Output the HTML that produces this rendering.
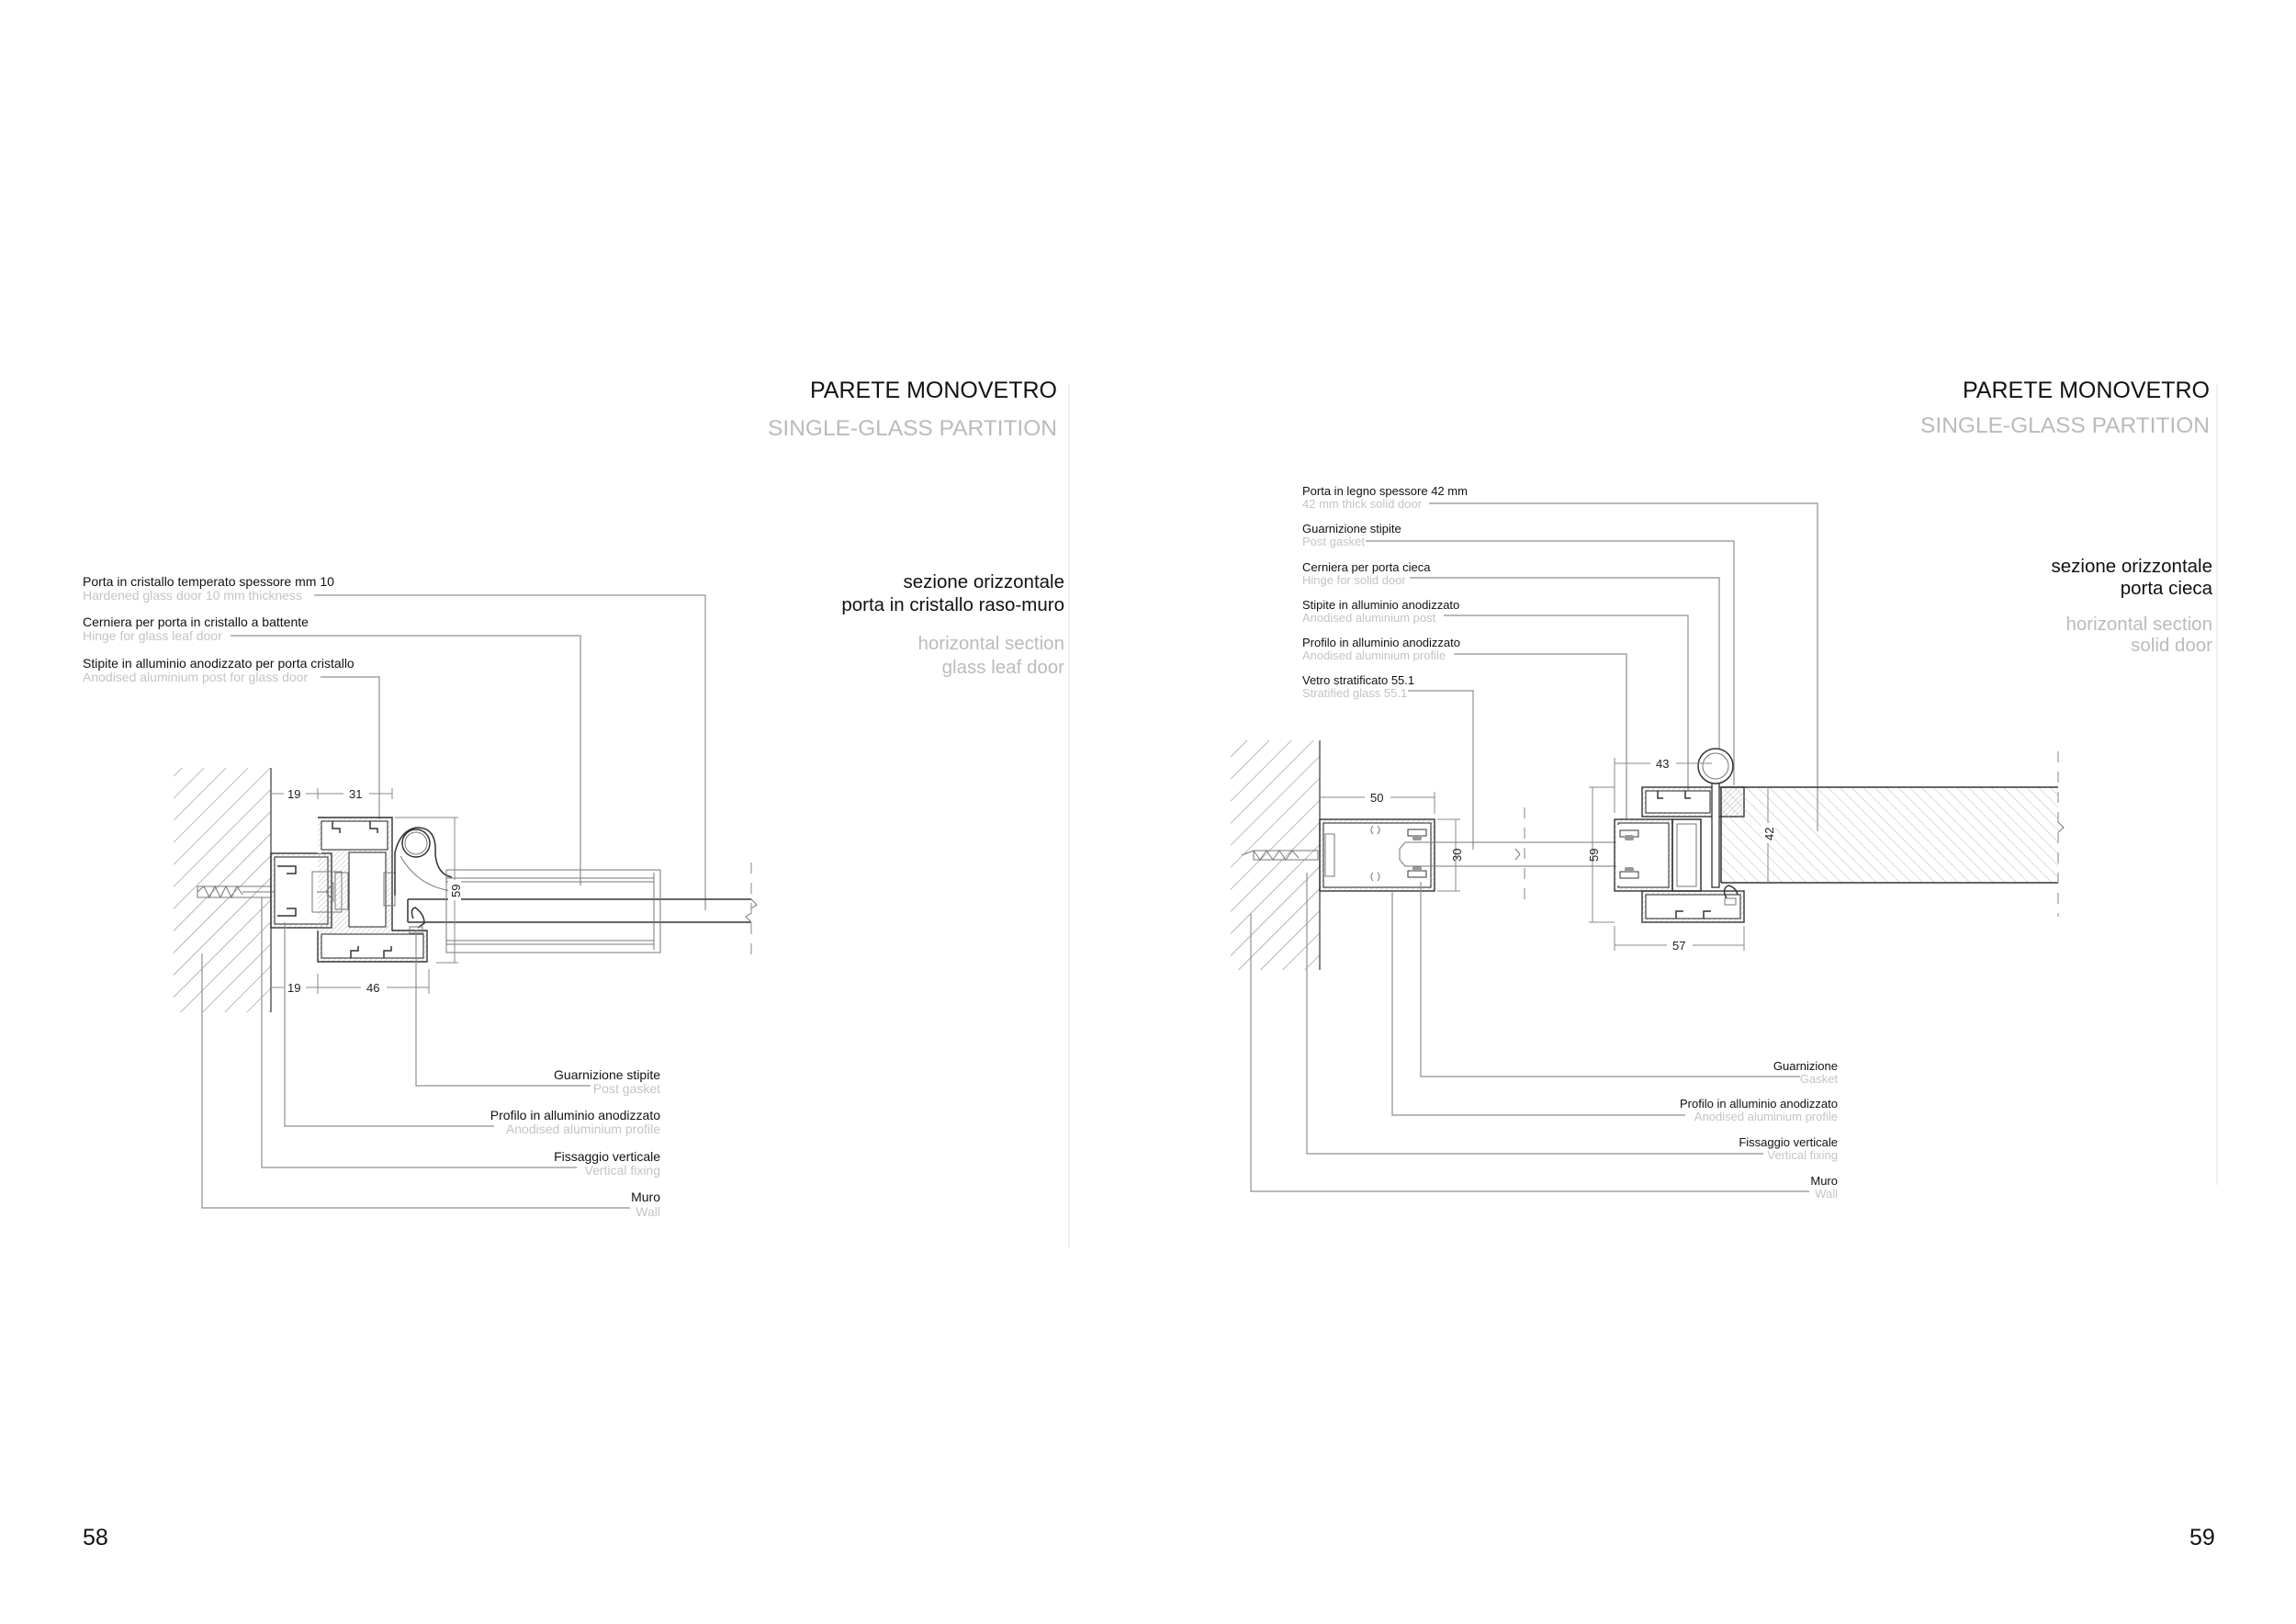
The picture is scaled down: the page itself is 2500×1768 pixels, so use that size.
<!DOCTYPE html>
<html><head><meta charset="utf-8"><style>
html,body{margin:0;padding:0;background:#fff}
svg{display:block}
text{font-family:"Liberation Sans",sans-serif}
.t{font-size:14px;fill:#111}
.g{font-size:14px;fill:#c4c4c4}
.t2{font-size:13px;fill:#111}
.g2{font-size:13px;fill:#c4c4c4}
.d{font-size:13px;fill:#222}
.ld{stroke:#8f8f8f;stroke-width:1.2;fill:none}
.o{stroke:#333;stroke-width:1.5;fill:none}
.th{stroke:#777;stroke-width:1;fill:none}
.dm{stroke:#888;stroke-width:1;fill:none}
.w{fill:#fff;stroke:#333;stroke-width:1.1}
</style></head><body>
<svg width="2500" height="1768" viewBox="0 0 2500 1768" xmlns="http://www.w3.org/2000/svg">
<defs>
<pattern id="h" width="17" height="17" patternUnits="userSpaceOnUse" patternTransform="rotate(45)">
<line x1="0" y1="0" x2="0" y2="17" stroke="#777" stroke-width="1"/></pattern>
<pattern id="h2" width="9" height="9" patternUnits="userSpaceOnUse" patternTransform="rotate(-45)">
<line x1="0" y1="0" x2="0" y2="9" stroke="#aaa" stroke-width="0.8"/></pattern>
<pattern id="hs" width="4" height="4" patternUnits="userSpaceOnUse" patternTransform="rotate(45)">
<line x1="0" y1="0" x2="0" y2="4" stroke="#999" stroke-width="0.7"/></pattern>
</defs>

<!-- ================= LEFT PAGE ================= -->
<line x1="1164" y1="418" x2="1164" y2="1358" stroke="#e2e2e2" stroke-width="1"/>
<text x="1151" y="433" text-anchor="end" style="font-size:25px;fill:#111">PARETE MONOVETRO</text>
<text x="1151" y="474" text-anchor="end" style="font-size:24.5px;fill:#bbb">SINGLE-GLASS PARTITION</text>
<text x="1159" y="640" text-anchor="end" style="font-size:20.5px;fill:#111">sezione orizzontale</text>
<text x="1159" y="665" text-anchor="end" style="font-size:20.5px;fill:#111">porta in cristallo raso-muro</text>
<text x="1159" y="707" text-anchor="end" style="font-size:20.5px;fill:#bbb">horizontal section</text>
<text x="1159" y="733" text-anchor="end" style="font-size:20.5px;fill:#bbb">glass leaf door</text>

<text class="t" x="90" y="638">Porta in cristallo temperato spessore mm 10</text>
<text class="g" x="90" y="653">Hardened glass door 10 mm thickness</text>
<text class="t" x="90" y="682">Cerniera per porta in cristallo a battente</text>
<text class="g" x="90" y="697">Hinge for glass leaf door</text>
<text class="t" x="90" y="727">Stipite in alluminio anodizzato per porta cristallo</text>
<text class="g" x="90" y="742">Anodised aluminium post for glass door</text>
<polyline class="ld" points="342,648 768,648 768,991"/>
<polyline class="ld" points="251,692 632,692 632,964"/>
<polyline class="ld" points="349,737 413,737 413,892"/>

<rect x="189" y="836" width="106" height="266" fill="url(#h)"/>
<line x1="295" y1="836" x2="295" y2="1102" stroke="#444" stroke-width="1.3"/>
<rect x="215" y="965" width="80" height="12" class="th"/>
<path d="M215,971 L222,965 L228,977 L234,965 L240,977 L246,965 L252,977 L258,965 L264,974" class="th"/>
<line x1="264" y1="971" x2="340" y2="971" class="th"/>
<rect x="295" y="929" width="66" height="81" fill="url(#hs)" stroke="#333" stroke-width="1.4"/>
<rect x="299" y="933" width="58" height="73" class="w"/>
<path d="M302,943 h20 v8 h-10 M302,997 h20 v-8 h-10" class="o" stroke-width="1.1"/>
<rect x="340" y="949" width="32" height="44" class="th"/>
<path d="M345,971 h10 l8,-10 v20 l-8,-10" class="th"/>
<rect x="365" y="950" width="14" height="40" class="th"/>
<path d="M346,890 H427 V1013 H465 V1047 H346 V1013" fill="url(#hs)" stroke="#333" stroke-width="1.4"/>
<rect x="350" y="894" width="72" height="31" class="w"/>
<rect x="350" y="1017" width="111" height="26" class="w"/>
<rect x="346" y="925" width="4" height="4" fill="#fff"/>
<rect x="380" y="928" width="40" height="81" class="w"/>
<rect x="418" y="950" width="12" height="36" class="th"/>
<path d="M362,894 v8 h8 v5 M403,894 v8 h8 v5 M382,1043 v-8 h8 v-5 M418,1043 v-8 h8 v-5" class="o" stroke-width="1"/>
<path d="M430,975 V928 Q436,904 453,901 Q476,900 474,930 Q476,952 492,955" class="o" stroke-width="1.2"/>
<path d="M436,932 Q455,965 492,970" class="th"/>
<circle cx="453" cy="918" r="15" class="o" stroke-width="1.3"/>
<circle cx="453" cy="918" r="12" class="th"/>
<path d="M450,1000 Q446,990 452,988 Q462,995 462,1005 L455,1010" class="o" stroke-width="1.2"/>
<rect x="446" y="1009" width="14" height="7" class="th"/>
<path d="M444,979 H818 M444,1004 H818 M444,979 V1004" class="o" stroke-width="1.3"/>
<path d="M818,979 l6,6 l-6,4 M818,1004 l-6,-6 l6,-4" class="th"/>
<path d="M486,947 H719 V1037 H486 Z" class="th"/>
<path d="M486,956 H712 M486,960 H712 M486,1024 H712 M486,1028 H712 M712,950 V1034" class="th"/>
<line x1="818" y1="939" x2="818" y2="1045" stroke="#999" stroke-width="1.2" stroke-dasharray="12,10"/>
<line x1="495" y1="890" x2="495" y2="1048" class="dm"/>
<line x1="430" y1="890" x2="499" y2="890" class="dm"/><line x1="475" y1="1048" x2="499" y2="1048" class="dm"/>
<rect x="488" y="958" width="14" height="22" fill="#fff"/>
<text class="d" transform="translate(501,977) rotate(-90)">59</text>
<line x1="295" y1="864" x2="427" y2="864" class="dm"/>
<line x1="346" y1="858" x2="346" y2="870" class="dm"/><line x1="427" y1="858" x2="427" y2="870" class="dm"/>
<rect x="309" y="856" width="24" height="16" fill="#fff"/><text class="d" x="313" y="869">19</text>
<rect x="374" y="856" width="28" height="16" fill="#fff"/><text class="d" x="380" y="869">31</text>
<line x1="295" y1="1075" x2="467" y2="1075" class="dm"/>
<line x1="346" y1="1060" x2="346" y2="1082" class="dm"/><line x1="467" y1="1055" x2="467" y2="1082" class="dm"/>
<rect x="309" y="1067" width="24" height="16" fill="#fff"/><text class="d" x="313" y="1080">19</text>
<rect x="393" y="1067" width="28" height="16" fill="#fff"/><text class="d" x="399" y="1080">46</text>

<text class="t" x="719" y="1175" text-anchor="end">Guarnizione stipite</text>
<text class="g" x="719" y="1190" text-anchor="end">Post gasket</text>
<text class="t" x="719" y="1219" text-anchor="end">Profilo in alluminio anodizzato</text>
<text class="g" x="719" y="1234" text-anchor="end">Anodised aluminium profile</text>
<text class="t" x="719" y="1264" text-anchor="end">Fissaggio verticale</text>
<text class="g" x="719" y="1279" text-anchor="end">Vertical fixing</text>
<text class="t" x="719" y="1308" text-anchor="end">Muro</text>
<text class="g" x="719" y="1324" text-anchor="end">Wall</text>
<polyline class="ld" points="453,1012 453,1182 643,1182"/>
<polyline class="ld" points="310,1004 310,1226 538,1226"/>
<polyline class="ld" points="285,977 285,1271 628,1271"/>
<polyline class="ld" points="220,1038 220,1315 686,1315"/>

<text x="90" y="1682" style="font-size:25px;fill:#111">58</text>

<!-- ================= RIGHT PAGE ================= -->
<line x1="2414" y1="418" x2="2414" y2="1290" stroke="#e2e2e2" stroke-width="1"/>
<text x="2406" y="433" text-anchor="end" style="font-size:25px;fill:#111">PARETE MONOVETRO</text>
<text x="2406" y="471" text-anchor="end" style="font-size:24.5px;fill:#bbb">SINGLE-GLASS PARTITION</text>
<text x="2409" y="623" text-anchor="end" style="font-size:20.5px;fill:#111">sezione orizzontale</text>
<text x="2409" y="647" text-anchor="end" style="font-size:20.5px;fill:#111">porta cieca</text>
<text x="2409" y="686" text-anchor="end" style="font-size:20.5px;fill:#bbb">horizontal section</text>
<text x="2409" y="709" text-anchor="end" style="font-size:20.5px;fill:#bbb">solid door</text>

<text class="t2" x="1418" y="539">Porta in legno spessore 42 mm</text>
<text class="g2" x="1418" y="553">42 mm thick solid door</text>
<text class="t2" x="1418" y="580">Guarnizione stipite</text>
<text class="g2" x="1418" y="594">Post gasket</text>
<text class="t2" x="1418" y="622">Cerniera per porta cieca</text>
<text class="g2" x="1418" y="636">Hinge for solid door</text>
<text class="t2" x="1418" y="663">Stipite in alluminio anodizzato</text>
<text class="g2" x="1418" y="677">Anodised aluminium post</text>
<text class="t2" x="1418" y="704">Profilo in alluminio anodizzato</text>
<text class="g2" x="1418" y="718">Anodised aluminium profile</text>
<text class="t2" x="1418" y="745">Vetro stratificato 55.1</text>
<text class="g2" x="1418" y="759">Stratified glass 55.1</text>
<polyline class="ld" points="1556,548 1979,548 1979,905"/>
<polyline class="ld" points="1487,589 1888,589 1888,855"/>
<polyline class="ld" points="1535,629 1872,629 1872,820"/>
<polyline class="ld" points="1572,670 1838,670 1838,870"/>
<polyline class="ld" points="1583,712 1771,712 1771,892"/>
<polyline class="ld" points="1533,752 1604,752 1604,925"/>

<rect x="1340" y="806" width="97" height="250" fill="url(#h)"/>
<line x1="1437" y1="806" x2="1437" y2="1056" stroke="#444" stroke-width="1.3"/>
<rect x="1365" y="926" width="70" height="10" class="th"/>
<path d="M1352,931 L1365,926 L1372,936 L1379,926 L1386,936 L1393,926 L1400,936 L1407,926 L1414,934" class="th"/>
<rect x="1437" y="892" width="125" height="78" fill="url(#hs)" stroke="#333" stroke-width="1.4"/>
<rect x="1441" y="896" width="117" height="70" class="w"/>
<rect x="1443" y="908" width="10" height="46" class="th"/>
<path d="M1495,899 q-4,5 0,9 M1500,899 q4,5 0,9 M1495,959 q-4,-5 0,-9 M1500,959 q4,-5 0,-9" class="th"/>
<rect x="1533" y="903" width="20" height="7" fill="#fff" stroke="#333"/><rect x="1538" y="909" width="10" height="6" rx="2" fill="#999"/>
<rect x="1533" y="948" width="20" height="7" fill="#fff" stroke="#333"/><rect x="1538" y="943" width="10" height="6" rx="2" fill="#999"/>
<path d="M1530,917 H1795 L1800,924 V936 L1795,943 H1530 L1524,936 V924 Z" class="th" fill="#fff"/>
<path d="M1650,924 l5,6 l-5,6" class="th"/>
<line x1="1660" y1="879" x2="1660" y2="979" stroke="#999" stroke-width="1.2" stroke-dasharray="12,10"/>
<rect x="1788" y="857" width="111" height="32" fill="url(#hs)" stroke="#333" stroke-width="1.4"/>
<rect x="1792" y="861" width="70" height="24" class="w"/>
<rect x="1758" y="892" width="63" height="78" fill="url(#hs)" stroke="#333" stroke-width="1.4"/>
<rect x="1762" y="896" width="55" height="70" class="w"/>
<rect x="1760" y="898" width="40" height="66" fill="#fff"/>
<rect x="1821" y="892" width="31" height="78" class="o"/>
<rect x="1826" y="897" width="21" height="68" class="th"/>
<rect x="1788" y="970" width="111" height="34" fill="url(#hs)" stroke="#333" stroke-width="1.4"/>
<rect x="1792" y="974" width="103" height="26" class="w"/>
<rect x="1764" y="904" width="20" height="7" fill="#fff" stroke="#333"/><rect x="1769" y="909" width="10" height="6" rx="2" fill="#999"/>
<rect x="1764" y="949" width="20" height="7" fill="#fff" stroke="#333"/><rect x="1769" y="944" width="10" height="6" rx="2" fill="#999"/>
<path d="M1805,861 v8 h6 M1835,861 v8 h6 M1825,1000 v-8 h8 M1855,1000 v-8 h8" class="o" stroke-width="1"/>
<rect x="1864" y="846" width="8" height="120" fill="#fff" stroke="#333" stroke-width="1.3"/>
<circle cx="1868" cy="834" r="19" fill="#fff" stroke="#333" stroke-width="1.5"/>
<circle cx="1868" cy="834" r="14" class="th"/>
<path d="M1880,978 q-6,-10 2,-14 q8,2 10,10" class="o" stroke-width="1.1"/>
<rect x="1878" y="978" width="12" height="7" class="th"/>
<rect x="1874" y="857" width="367" height="104" fill="url(#h2)"/>
<line x1="1874" y1="857" x2="2241" y2="857" class="o"/>
<line x1="1874" y1="961" x2="2241" y2="961" class="o"/>
<line x1="1874" y1="857" x2="1874" y2="961" class="o"/>
<line x1="2241" y1="818" x2="2241" y2="998" stroke="#999" stroke-width="1.2" stroke-dasharray="12,10"/>
<path d="M2241,895 l6,6 l-6,5" class="th"/>
<line x1="1437" y1="868" x2="1562" y2="868" class="dm"/><line x1="1562" y1="862" x2="1562" y2="886" class="dm"/>
<rect x="1486" y="860" width="28" height="16" fill="#fff"/><text class="d" x="1492" y="873">50</text>
<line x1="1585" y1="892" x2="1585" y2="970" class="dm"/>
<line x1="1565" y1="892" x2="1590" y2="892" class="dm"/><line x1="1565" y1="970" x2="1590" y2="970" class="dm"/>
<text class="d" transform="translate(1591,938) rotate(-90)">30</text>
<line x1="1734" y1="857" x2="1734" y2="1004" class="dm"/>
<line x1="1730" y1="857" x2="1758" y2="857" class="dm"/><line x1="1730" y1="1004" x2="1758" y2="1004" class="dm"/>
<text class="d" transform="translate(1740,938) rotate(-90)">59</text>
<line x1="1758" y1="831" x2="1864" y2="831" class="dm"/><line x1="1758" y1="825" x2="1758" y2="885" class="dm"/>
<rect x="1797" y="823" width="28" height="16" fill="#fff"/><text class="d" x="1803" y="836">43</text>
<line x1="1758" y1="1029" x2="1899" y2="1029" class="dm"/><line x1="1758" y1="1008" x2="1758" y2="1035" class="dm"/><line x1="1899" y1="1008" x2="1899" y2="1035" class="dm"/>
<rect x="1815" y="1021" width="28" height="16" fill="#fff"/><text class="d" x="1821" y="1034">57</text>
<line x1="1925" y1="857" x2="1925" y2="961" class="dm"/>
<rect x="1918" y="896" width="14" height="22" fill="#fff"/>
<text class="d" transform="translate(1931,915) rotate(-90)">42</text>

<text class="t2" x="2001" y="1165" text-anchor="end">Guarnizione</text>
<text class="g2" x="2001" y="1179" text-anchor="end">Gasket</text>
<text class="t2" x="2001" y="1206" text-anchor="end">Profilo in alluminio anodizzato</text>
<text class="g2" x="2001" y="1220" text-anchor="end">Anodised aluminium profile</text>
<text class="t2" x="2001" y="1248" text-anchor="end">Fissaggio verticale</text>
<text class="g2" x="2001" y="1262" text-anchor="end">Vertical fixing</text>
<text class="t2" x="2001" y="1290" text-anchor="end">Muro</text>
<text class="g2" x="2001" y="1304" text-anchor="end">Wall</text>
<polyline class="ld" points="1547,960 1547,1172 1960,1172"/>
<polyline class="ld" points="1516,970 1516,1214 1835,1214"/>
<polyline class="ld" points="1423,950 1423,1256 1920,1256"/>
<polyline class="ld" points="1362,995 1362,1297 1970,1297"/>

<text x="2384" y="1682" style="font-size:25px;fill:#111">59</text>
</svg>
</body></html>
